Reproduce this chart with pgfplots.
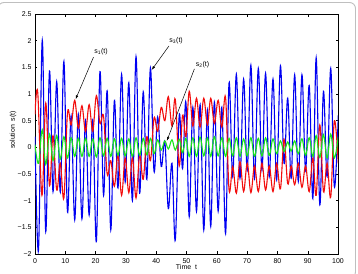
\documentclass[border=0pt]{standalone}
\usepackage{fontspec}
\setmainfont{Liberation Sans}
\usepackage{pgfplots}
\pgfplotsset{compat=1.18}
\usetikzlibrary{arrows.meta}
\definecolor{sblue}{rgb}{0,0,0.95}
\definecolor{sred}{rgb}{0.95,0.05,0.05}
\definecolor{sgreen}{rgb}{0.1,0.9,0.1}
\newcommand{\fs}{\fontsize{7}{8.4}\selectfont}
\begin{document}
\begin{tikzpicture}[x=1bp,y=1bp]
\begin{axis}[
  at={(0,0)}, anchor=south west, scale only axis,
  width=303bp, height=240bp,
  xmin=0, xmax=100, ymin=-2, ymax=2.5,
  xtick={0,10,20,30,40,50,60,70,80,90,100},
  xticklabels={0,10,20,30,40,50,60,70,80,90,100},
  ytick={-2,-1.5,-1,-0.5,0,0.5,1,1.5,2,2.5},
  yticklabels={−2,−1.5,−1,−0.5,0,0.5,1,1.5,2,2.5},
  tick align=inside, major tick length=2.5bp,
  tick style={line width=0.4bp, black},
  axis line style={line width=0.5bp},
  tick label style={font=\fs},
  xticklabel style={yshift=-1.2bp},
  xlabel={Time~~t}, ylabel={solution~~s(t)},
  xlabel style={font=\fs, at={(axis description cs:0.5,-0.054)}, anchor=center},
  ylabel style={font=\fs, at={(axis description cs:-0.0725,0.517)}, anchor=center},
  clip=true,
]
\addplot[sblue, line width=1.1bp, smooth, tension=0.6] table {
0 0.2
1.15 -1.93
2.4 2.01
3.55 -1.58
4.78 1.43
5.95 -0.83
7.16 1.23
8.35 -0.84
9.54 1.61
10.73 -1.21
11.92 0.59
13.11 -1.36
14.3 0.62
15.49 -1.34
16.68 0.5
17.87 -1.27
19.06 0.52
20.25 -1.77
21.44 1.42
22.63 -0.9
23.82 1.06
25.01 -1.55
26.2 0.88
27.39 -0.76
28.58 1.37
29.77 -0.65
30.96 1.21
32.15 -1.0
33.34 1.70
34.53 -0.86
35.72 1.04
36.91 -0.6
38.1 1.49
39.29 -0.45
40.48 0.57
41.67 -0.36
42.86 0.1
44.0 -1.15
45.2 -0.3
46.3 -1.74
47.6 0.6
48.7 -0.4
49.8 0.85
50.9 -1.3
52.1 0.75
53.3 -1.2
54.5 0.8
55.7 -1.55
56.9 0.7
58.0 -1.48
59.2 0.85
60.45 -1.2
61.65 0.75
62.9 -1.62
64.05 1.21
65.25 -0.55
66.45 1.37
67.65 -0.58
68.85 1.28
70.05 -0.43
71.25 1.54
72.45 -0.58
73.7 1.48
74.9 -0.43
76.1 1.39
77.3 -0.55
78.55 1.28
79.75 -0.61
81.0 1.53
82.2 -0.3
83.4 0.92
84.55 -0.58
85.7 1.36
86.9 -0.64
88.1 1.36
89.3 -0.43
90.5 1.16
91.7 -0.96
92.8 1.68
94.0 -1.08
95.2 1.05
96.4 -0.55
97.6 1.48
98.8 -0.74
100.1 0.6
};
\addplot[sred, line width=1.1bp, smooth, tension=0.6] table {
0 0.62
0.9 1.03
2.3 -0.9
3.55 0.83
4.78 -0.72
5.95 0.22
7.16 -0.8
8.35 -0.3
9.54 -0.95
10.73 0.65
11.92 0.42
13.11 0.88
14.3 0.36
15.49 0.78
16.68 0.3
17.87 0.8
19.06 0.3
20.25 0.97
21.44 0.45
22.63 0.58
23.82 -0.5
25.01 -0.25
26.2 -0.73
27.39 -0.15
28.58 -0.9
29.77 -0.2
30.96 -0.85
32.15 -0.2
33.34 -0.95
34.53 -0.15
35.72 -0.6
36.91 0.2
38.1 -0.25
39.29 0.55
40.48 0.3
41.67 0.75
42.86 0.5
44.0 0.95
45.2 0.4
46.3 0.9
47.6 -0.35
48.7 0.6
49.8 0.2
50.9 1.05
52.1 0.4
53.3 0.92
54.5 0.38
55.7 0.92
56.9 0.42
58.0 0.92
59.2 0.45
60.45 0.88
61.65 0.38
62.9 0.93
64.05 -0.8
65.25 -0.36
66.45 -0.86
67.65 -0.27
68.85 -0.83
70.05 -0.3
71.25 -0.85
72.45 -0.35
73.7 -0.83
74.9 -0.3
76.1 -0.8
77.3 -0.35
78.55 -0.83
79.75 -0.3
81.0 -0.78
82.2 0.15
83.4 -0.68
84.55 -0.35
85.7 -0.7
86.9 -0.3
88.1 -0.75
89.3 -0.35
90.5 -0.83
91.7 -0.2
92.8 -0.9
94.0 0.42
95.2 -0.83
96.4 -0.3
97.6 -0.93
98.8 0.5
100.1 -0.3
};
\addplot[sgreen, line width=1.1bp, smooth, tension=0.6] table {
0 0.05
1.15 -0.3
2.4 0.33
3.55 -0.32
4.78 0.25
5.95 -0.25
7.16 0.22
8.35 -0.22
9.54 0.2
10.73 -0.2
11.92 0.18
13.11 -0.17
14.3 0.17
15.49 -0.17
16.68 0.17
17.87 -0.17
19.06 0.16
20.25 -0.18
21.44 0.18
22.63 -0.16
23.82 0.17
25.01 -0.17
26.2 0.16
27.39 -0.15
28.58 0.17
29.77 -0.16
30.96 0.16
32.15 -0.17
33.34 0.18
34.53 -0.15
35.72 0.17
36.91 -0.14
38.1 0.17
39.29 -0.12
40.48 0.14
41.67 -0.05
42.86 0.12
44.0 -0.03
45.2 0.14
46.3 -0.05
47.6 0.15
48.7 -0.1
49.8 0.17
50.9 -0.17
52.1 0.18
53.3 -0.17
54.5 0.19
55.7 -0.16
56.9 0.18
58.0 -0.17
59.2 0.2
60.45 -0.16
61.65 0.18
62.9 -0.17
64.05 0.17
65.25 -0.16
66.45 0.18
67.65 -0.17
68.85 0.16
70.05 -0.16
71.25 0.18
72.45 -0.17
73.7 0.17
74.9 -0.16
76.1 0.18
77.3 -0.15
78.55 0.16
79.75 -0.12
81.0 0.12
82.2 -0.08
83.4 0.1
84.55 -0.07
85.7 0.12
86.9 -0.12
88.1 0.16
89.3 -0.15
90.5 0.18
91.7 -0.17
92.8 0.22
94.0 -0.19
95.2 0.24
96.4 -0.2
97.6 0.25
98.8 -0.2
100.1 0.2
};
\draw[-{Latex[length=4bp,width=2.6bp]}, line width=0.5bp] (axis cs:19.3,1.69) -- (axis cs:13.4,0.9);
\node[anchor=base west, inner sep=0pt, font=\fs] at (axis cs:19.5,1.76) {s\textsubscript{1}(t)};
\draw[-{Latex[length=4bp,width=2.6bp]}, line width=0.5bp] (axis cs:44.2,1.90) -- (axis cs:38.5,1.45);
\node[anchor=base west, inner sep=0pt, font=\fs] at (axis cs:44.3,1.97) {s\textsubscript{3}(t)};
\draw[-{Latex[length=4bp,width=2.6bp]}, line width=0.5bp] (axis cs:52.6,1.47) -- (axis cs:43.5,0.12);
\node[anchor=base west, inner sep=0pt, font=\fs] at (axis cs:53.0,1.525) {s\textsubscript{2}(t)};
\end{axis}
\pgfresetboundingbox
\useasboundingbox (-35,-20) rectangle (323,254);
\draw[gray!50, line width=0.9bp, rounded corners=6bp] (-37,-24) rectangle (320.5,251.5);
\end{tikzpicture}
\end{document}
